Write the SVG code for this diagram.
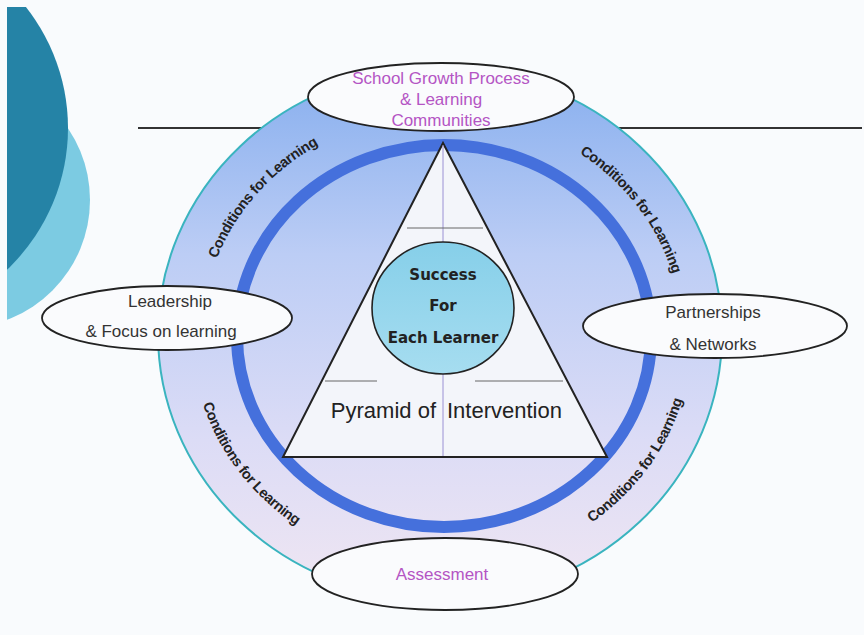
<svg xmlns="http://www.w3.org/2000/svg" width="864" height="635" viewBox="0 0 864 635">
  <defs>
    <linearGradient id="bandFill" x1="0" y1="0" x2="0" y2="1">
      <stop offset="0" stop-color="#86aeee"/>
      <stop offset="0.35" stop-color="#bccdf5"/>
      <stop offset="0.7" stop-color="#dcdcf6"/>
      <stop offset="1" stop-color="#f0e6f2"/>
    </linearGradient>
    <linearGradient id="hubFill" x1="0" y1="0" x2="0" y2="1">
      <stop offset="0" stop-color="#86cfe9"/>
      <stop offset="1" stop-color="#a6ddf0"/>
    </linearGradient>
    <clipPath id="pageClip">
      <rect x="7" y="7" width="857" height="628"/>
    </clipPath>
    <path id="arcTL" d="M202.0,339.9 A240,223 0 0 1 396.2,117.1"/>
    <path id="arcTR" d="M504.1,120.6 A240,223 0 0 1 681.1,355.4"/>
    <path id="arcBL" d="M193.0,315.7 A250,233 0 0 0 377.3,561.1"/>
    <path id="arcBR" d="M510.9,560.0 A250,233 0 0 0 690.6,311.6"/>
  </defs>
  <style>
    .node { fill: #fafbfd; stroke: #222; stroke-width: 1.8; }
    .lbl { font-family: "Liberation Sans", Arial, sans-serif; font-size: 17px; text-anchor: middle; }
    .dark { fill: #333; }
    .purple { fill: #b455c4; }
    .cond { font-family: "Liberation Sans", Arial, sans-serif; font-size: 14.5px; font-weight: bold; letter-spacing: -0.4px; fill: #222; }
    .hub { font-family: "DejaVu Sans", Verdana, sans-serif; font-size: 15px; font-weight: bold; fill: #222; text-anchor: middle; }
    .pyr { font-family: "Liberation Sans", Arial, sans-serif; font-size: 22px; fill: #222; }
  </style>

  <rect x="0" y="0" width="864" height="635" fill="#f9fbfd"/>

  <g id="decoration" clip-path="url(#pageClip)">
    <circle cx="-38" cy="200" r="128" fill="#7ccbe2"/>
    <circle cx="-127" cy="128" r="195" fill="#2583a6"/>
  </g>

  <line x1="138" y1="128" x2="862" y2="128" stroke="#333" stroke-width="2"/>

  <g id="outer-band">
    <ellipse cx="440" cy="334" rx="282" ry="266" fill="url(#bandFill)" stroke="#3ab4bf" stroke-width="2"/>
    <ellipse cx="444" cy="336" rx="207" ry="191" fill="none" stroke="#4570dc" stroke-width="12"/>
  </g>

  <g id="conditions-labels">
    <text class="cond"><textPath href="#arcTL" startOffset="50%" text-anchor="middle">Conditions for Learning</textPath></text>
    <text class="cond"><textPath href="#arcTR" startOffset="50%" text-anchor="middle">Conditions for Learning</textPath></text>
    <text class="cond"><textPath href="#arcBL" startOffset="50%" text-anchor="middle">Conditions for Learning</textPath></text>
    <text class="cond"><textPath href="#arcBR" startOffset="50%" text-anchor="middle">Conditions for Learning</textPath></text>
  </g>

  <g id="pyramid">
    <polygon points="443,143 607,457 283,457" fill="#f3f5fa" stroke="#222" stroke-width="2" stroke-linejoin="miter"/>
    <line x1="443" y1="145" x2="443" y2="456" stroke="#9a90d4" stroke-width="1"/>
    <line x1="407" y1="228" x2="483" y2="228" stroke="#666" stroke-width="1"/>
    <line x1="325" y1="381" x2="377" y2="381" stroke="#666" stroke-width="1"/>
    <line x1="475" y1="381" x2="563" y2="381" stroke="#666" stroke-width="1"/>
    <text class="pyr" x="436" y="418" text-anchor="end">Pyramid of</text>
    <text class="pyr" x="447" y="418">Intervention</text>
  </g>

  <g id="success-hub">
    <ellipse cx="443" cy="308" rx="71" ry="66" fill="url(#hubFill)" stroke="#222" stroke-width="1.6"/>
    <text class="hub" x="443" y="280">Success</text>
    <text class="hub" x="443" y="311">For</text>
    <text class="hub" x="443" y="343">Each Learner</text>
  </g>

  <g id="school-growth">
    <ellipse class="node" cx="441" cy="97" rx="133" ry="34"/>
    <text class="lbl purple" x="441" y="84">School Growth Process</text>
    <text class="lbl purple" x="441" y="105">&amp; Learning</text>
    <text class="lbl purple" x="441" y="126">Communities</text>
  </g>

  <g id="leadership">
    <ellipse class="node" cx="167" cy="318" rx="125" ry="32"/>
    <text class="lbl dark" x="170" y="307">Leadership</text>
    <text class="lbl dark" x="161" y="337">&amp; Focus on learning</text>
  </g>

  <g id="partnerships">
    <ellipse class="node" cx="715" cy="326" rx="132" ry="32"/>
    <text class="lbl dark" x="713" y="318">Partnerships</text>
    <text class="lbl dark" x="713" y="350">&amp; Networks</text>
  </g>

  <g id="assessment">
    <ellipse class="node" cx="445" cy="574" rx="133" ry="36"/>
    <text class="lbl purple" x="442" y="580">Assessment</text>
  </g>

  <g id="connectors"/>
</svg>
